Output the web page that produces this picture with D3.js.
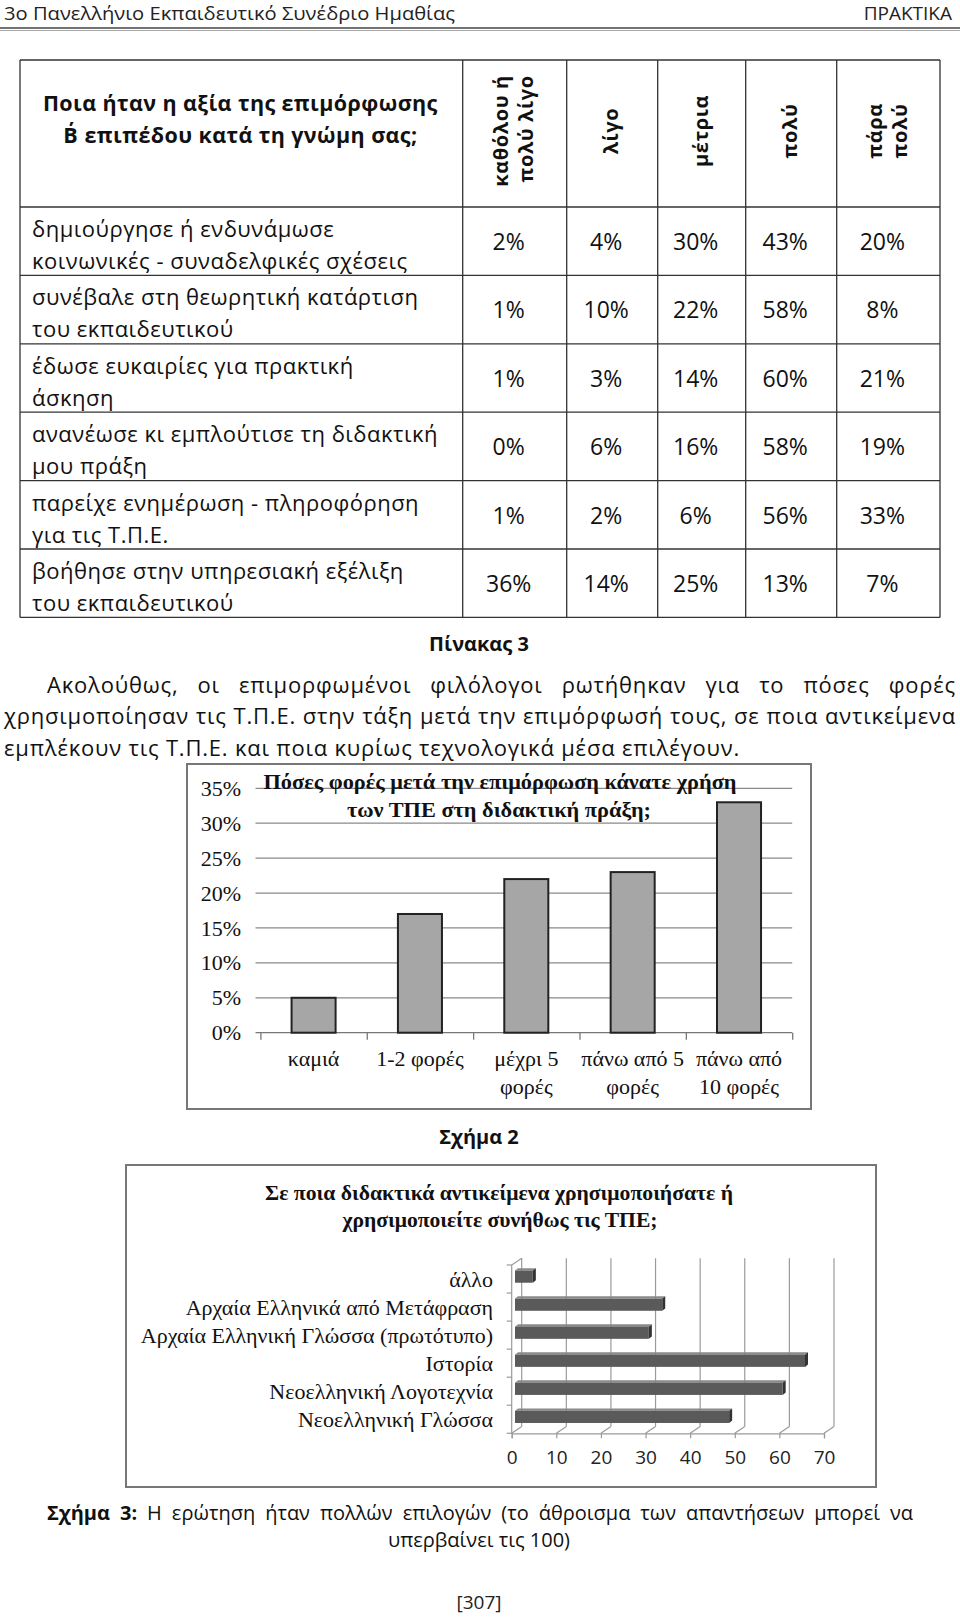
<!DOCTYPE html>
<html>
<head>
<meta charset="utf-8">
<style>
  body { margin: 0; background: #fff; }
  svg { display: block; }
  .body { font-family: "Open Sans", sans-serif; fill: #111; }
  .serif { font-family: "Liberation Serif", "Times New Roman", serif; fill: #111; }
  .calibri { font-family: "Open Sans", sans-serif; fill: #222; }
</style>
</head>
<body>
<svg width="960" height="1617"></svg>
<script src="https://d3js.org/d3.v7.min.js"></script>
<script>
// ---- data ----
var pageHeader = "3ο Πανελλήνιο Εκπαιδευτικό Συνέδριο Ημαθίας";
var pageHeaderRight = "ΠΡΑΚΤΙΚΑ";
var tableQuestion = ["Ποια ήταν η αξία της επιμόρφωσης", "Β΄ επιπέδου κατά τη γνώμη σας;"];
var tableCols = [["καθόλου ή", "πολύ λίγο"], ["λίγο"], ["μέτρια"], ["πολύ"], ["πάρα", "πολύ"]];
var tableRows = [
  ["δημιούργησε ή ενδυνάμωσε", "κοινωνικές - συναδελφικές σχέσεις"],
  ["συνέβαλε στη θεωρητική κατάρτιση", "του εκπαιδευτικού"],
  ["έδωσε ευκαιρίες για πρακτική", "άσκηση"],
  ["ανανέωσε κι εμπλούτισε τη διδακτική", "μου πράξη"],
  ["παρείχε ενημέρωση - πληροφόρηση", "για τις Τ.Π.Ε."],
  ["βοήθησε στην υπηρεσιακή εξέλιξη", "του εκπαιδευτικού"]
];
var tableValues = [
  [2, 4, 30, 43, 20],
  [1, 10, 22, 58, 8],
  [1, 3, 14, 60, 21],
  [0, 6, 16, 58, 19],
  [1, 2, 6, 56, 33],
  [36, 14, 25, 13, 7]
];
var tableCaption = "Πίνακας 3";
var paragraph = [
  "Ακολούθως, οι επιμορφωμένοι φιλόλογοι ρωτήθηκαν για το πόσες φορές",
  "χρησιμοποίησαν τις Τ.Π.Ε. στην τάξη μετά την επιμόρφωσή τους, σε ποια αντικείμενα",
  "εμπλέκουν τις Τ.Π.Ε. και ποια κυρίως τεχνολογικά μέσα επιλέγουν."
];

var freqTitle = ["Πόσες φορές μετά την επιμόρφωση κάνατε χρήση", "των ΤΠΕ στη διδακτική πράξη;"];
var freqCats = [["καμιά"], ["1-2 φορές"], ["μέχρι 5", "φορές"], ["πάνω από 5", "φορές"], ["πάνω από", "10 φορές"]];
var freqValues = [5, 17, 22, 23, 33];
var freqTicks = [0, 5, 10, 15, 20, 25, 30, 35];
var freqCaption = "Σχήμα 2";

var subjTitle = ["Σε ποια διδακτικά αντικείμενα χρησιμοποιήσατε ή", "χρησιμοποιείτε συνήθως τις ΤΠΕ;"];
var subjCats = ["άλλο", "Αρχαία Ελληνικά από Μετάφραση", "Αρχαία Ελληνική Γλώσσα (πρωτότυπο)",
                "Ιστορία", "Νεοελληνική Λογοτεχνία", "Νεοελληνική Γλώσσα"];
var subjValues = [4, 33, 30, 65, 60, 48];
var subjTicks = [0, 10, 20, 30, 40, 50, 60, 70];
var subjCaptionBold = "Σχήμα 3:";
var subjCaption = [" Η ερώτηση ήταν πολλών επιλογών (το άθροισμα των απαντήσεων μπορεί να", "υπερβαίνει τις 100)"];
var pageNumber = "[307]";

var svg = d3.select("svg");

// stretch the gaps of a line so it ends at xEnd
function justify(t, x0, xEnd) {
  var w = t.node().getComputedTextLength();
  var gaps = t.text().trim().split(" ").length - 1;
  t.attr("word-spacing", (xEnd - x0 - w) / gaps);
}

// ---- page header ----
svg.append("text").attr("class", "calibri").attr("x", 4).attr("y", 20)
    .attr("font-size", 19).attr("textLength", 451).attr("lengthAdjust", "spacingAndGlyphs")
    .text(pageHeader);
svg.append("text").attr("class", "calibri").attr("x", 952).attr("y", 20)
    .attr("font-size", 19).attr("text-anchor", "end")
    .text(pageHeaderRight);
svg.append("line").attr("x1", 0).attr("x2", 960).attr("y1", 28).attr("y2", 28)
    .attr("stroke", "#444").attr("stroke-width", 1.5);
svg.append("line").attr("x1", 0).attr("x2", 960).attr("y1", 30.5).attr("y2", 30.5)
    .attr("stroke", "#aaa").attr("stroke-width", 1);

// ---- table ----
var colEdges = [20, 462.7, 566.7, 657.7, 745.7, 836.7, 940];
var tTop = 60, tHead = 207, rowH = 68.4;
var rowY = d3.scaleLinear().domain([0, tableRows.length]).range([tHead, tHead + rowH * tableRows.length]);
var tbl = svg.append("g");

tbl.selectAll("line.h")
  .data([tTop].concat(d3.range(tableRows.length + 1).map(rowY)))
  .join("line").attr("class", "h")
    .attr("x1", colEdges[0]).attr("x2", colEdges[6])
    .attr("y1", d => d).attr("y2", d => d)
    .attr("stroke", "#333").attr("stroke-width", 1.3);
tbl.selectAll("line.v")
  .data(colEdges)
  .join("line").attr("class", "v")
    .attr("x1", d => d).attr("x2", d => d)
    .attr("y1", tTop).attr("y2", rowY(tableRows.length))
    .attr("stroke", "#333").attr("stroke-width", 1.3);

tbl.selectAll("text.q")
  .data(tableQuestion)
  .join("text").attr("class", "q body")
    .attr("x", (colEdges[0] + colEdges[1]) / 2 - 1)
    .attr("y", (d, i) => 111 + i * 32)
    .attr("text-anchor", "middle").attr("font-weight", "bold").attr("font-size", 21.5)
    .attr("letter-spacing", 0.4)
    .text(d => d);

// rotated column heads; a two-line head is centred as a block, lines aligned at the top
tableCols.forEach(function (lines, c) {
  var cx = (colEdges[c + 1] + colEdges[c + 2]) / 2;
  var top = null;
  lines.forEach(function (t, k) {
    var lx = cx + (k - (lines.length - 1) / 2) * 25 + 6;
    var el = tbl.append("text").attr("class", "body")
      .attr("font-weight", "bold").attr("font-size", 20).attr("letter-spacing", 0.6)
      .text(t);
    var len = el.node().getComputedTextLength();
    if (k === 0) top = 131 - len / 2;
    var yStart = (c === 0) ? top + len : 131 + len / 2;
    el.attr("transform", "translate(" + lx + "," + yStart + ") rotate(-90)");
  });
});

var rowG = tbl.selectAll("g.row").data(tableRows).join("g").attr("class", "row")
    .attr("transform", (d, i) => "translate(0," + rowY(i) + ")");
rowG.selectAll("text.lbl")
  .data(d => d)
  .join("text").attr("class", "lbl body")
    .attr("x", 32).attr("y", (d, k) => 30 + k * 32)
    .attr("font-size", 22).attr("letter-spacing", 0.5)
    .text(d => d);
rowG.selectAll("text.val")
  .data((d, i) => tableValues[i])
  .join("text").attr("class", "val body")
    .attr("x", (d, c) => (colEdges[c + 1] + colEdges[c + 2]) / 2 - 6)
    .attr("y", 43)
    .attr("text-anchor", "middle").attr("font-size", 23)
    .text(d => d + "%");

svg.append("text").attr("class", "body").attr("x", 479).attr("y", 651)
    .attr("text-anchor", "middle").attr("font-weight", "bold").attr("font-size", 20)
    .text(tableCaption);

// ---- paragraph (justified) ----
var paraX = [47, 4, 4], paraY = [693, 724, 756];
paragraph.forEach(function (line, i) {
  var t = svg.append("text").attr("class", "body").attr("x", paraX[i]).attr("y", paraY[i])
      .attr("font-size", 22).attr("letter-spacing", 0.8).text(line);
  if (i < paragraph.length - 1) justify(t, paraX[i], 956);
});

// ---- chart: Σχήμα 2 ----
var c1 = svg.append("g");
c1.append("rect").attr("x", 187).attr("y", 764).attr("width", 624).attr("height", 345)
    .attr("fill", "#fff").attr("stroke", "#777").attr("stroke-width", 2);

var x1 = d3.scaleBand().domain(d3.range(freqCats.length)).range([260.4, 792.2])
    .paddingInner(0.586).paddingOuter(0.293);
var y1 = d3.scaleLinear().domain([0, 35]).range([1032.7, 788.3]);

c1.selectAll("line.grid").data(freqTicks.slice(1)).join("line").attr("class", "grid")
    .attr("x1", 255.5).attr("x2", 792.2).attr("y1", d => y1(d)).attr("y2", d => y1(d))
    .attr("stroke", "#8a8a8a").attr("stroke-width", 1.2);
c1.append("g").attr("transform", "translate(0," + y1(0) + ")")
    .call(d3.axisBottom(d3.scaleLinear().domain([0, freqCats.length]).range(x1.range()))
      .ticks(freqCats.length).tickSize(7).tickFormat(""))
    .call(g => g.selectAll("line,path").attr("stroke", "#777").attr("stroke-width", 1.3))
    .call(g => g.select(".domain").attr("d", "M255.5,0H792.2"));

c1.append("g").attr("transform", "translate(241,0)")
    .call(d3.axisLeft(y1).tickValues(freqTicks).tickSize(0).tickPadding(0).tickFormat(d => d + "%"))
    .call(g => g.select(".domain").remove())
    .call(g => g.selectAll("text").attr("class", "serif").attr("font-size", 22).attr("fill", "#222"));

c1.selectAll("rect.bar").data(freqValues).join("rect").attr("class", "bar")
    .attr("x", (d, i) => x1(i)).attr("width", x1.bandwidth())
    .attr("y", d => y1(d)).attr("height", d => y1(0) - y1(d))
    .attr("fill", "#a6a6a6").attr("stroke", "#222").attr("stroke-width", 2);

c1.selectAll("text.title").data(freqTitle).join("text").attr("class", "title serif")
    .attr("x", (d, i) => i ? 499 : 500).attr("y", (d, i) => 789 + i * 28)
    .attr("text-anchor", "middle").attr("font-weight", "bold").attr("font-size", 21)
    .attr("textLength", (d, i) => i ? 304 : 473).attr("lengthAdjust", "spacingAndGlyphs")
    .text(d => d);

freqCats.forEach(function (lines, i) {
  c1.append("text").attr("class", "serif")
    .attr("text-anchor", "middle").attr("font-size", 22)
    .selectAll("tspan").data(lines).join("tspan")
      .attr("x", x1(i) + x1.bandwidth() / 2)
      .attr("y", (d, k) => 1066 + k * 28)
      .text(d => d);
});

svg.append("text").attr("class", "body").attr("x", 479).attr("y", 1144)
    .attr("text-anchor", "middle").attr("font-weight", "bold").attr("font-size", 20)
    .text(freqCaption);

// ---- chart: Σχήμα 3 (3-D horizontal bars) ----
var c2 = svg.append("g");
c2.append("rect").attr("x", 126).attr("y", 1165).attr("width", 750).attr("height", 322)
    .attr("fill", "#fff").attr("stroke", "#777").attr("stroke-width", 2);

c2.selectAll("text.title").data(subjTitle).join("text").attr("class", "title serif")
    .attr("x", (d, i) => i ? 500 : 499).attr("y", (d, i) => 1200 + i * 27)
    .attr("text-anchor", "middle").attr("font-weight", "bold").attr("font-size", 21)
    .attr("textLength", (d, i) => i ? 315 : 468).attr("lengthAdjust", "spacingAndGlyphs")
    .text(d => d);

var x2 = d3.scaleLinear().domain([0, 70]).range([511.7, 824]);
var y2 = d3.scaleBand().domain(subjCats).range([1265, 1433.3]);
var dx = 10, dy = -6.7, floorY = y2.range()[1];
var grid2 = "#9a9a9a";

// back wall gridlines + floor diagonals
c2.selectAll("line.vgrid").data(subjTicks).join("line").attr("class", "vgrid")
    .attr("x1", d => x2(d) + dx).attr("x2", d => x2(d) + dx)
    .attr("y1", 1265 + dy).attr("y2", floorY + dy)
    .attr("stroke", grid2).attr("stroke-width", 1.2);
c2.selectAll("line.diag").data(subjTicks).join("line").attr("class", "diag")
    .attr("x1", d => x2(d)).attr("x2", d => x2(d) + dx)
    .attr("y1", floorY).attr("y2", floorY + dy)
    .attr("stroke", grid2).attr("stroke-width", 1.2);
// left wall
c2.append("path")
    .attr("d", "M" + x2(0) + "," + floorY + "V1265L" + (x2(0) + dx) + "," + (1265 + dy))
    .attr("fill", "none").attr("stroke", grid2).attr("stroke-width", 1.2);
// left ticks
c2.selectAll("line.ytick").data(subjCats.map(d => y2(d)).concat([floorY])).join("line").attr("class", "ytick")
    .attr("x1", x2(0) - 5).attr("x2", x2(0)).attr("y1", d => d).attr("y2", d => d)
    .attr("stroke", grid2).attr("stroke-width", 1.2);

// bottom axis
c2.append("g").attr("transform", "translate(0," + floorY + ")")
    .call(d3.axisBottom(x2).tickValues(subjTicks).tickSize(5).tickPadding(12))
    .call(g => g.selectAll("line,path").attr("stroke", grid2).attr("stroke-width", 1.2))
    .call(g => g.selectAll("text").attr("class", "calibri").attr("font-size", 19).attr("fill", "#222"));

// bars
var bh = 12.2, bdx = 3, bdy = -2.4, off = 3.3;
var bars = c2.selectAll("g.bar").data(subjValues).join("g").attr("class", "bar");
bars.each(function (v, i) {
  var g = d3.select(this);
  var x0 = x2(0) + off, xe = x2(v) + off;
  var yc = y2(subjCats[i]) + y2.bandwidth() / 2 - 2.4;
  var t = yc - bh / 2, b = yc + bh / 2;
  g.append("path").attr("fill", "#8a8a8a")
    .attr("d", "M" + x0 + "," + t + "L" + xe + "," + t + "L" + (xe + bdx) + "," + (t + bdy) + "L" + (x0 + bdx) + "," + (t + bdy) + "Z");
  g.append("path").attr("fill", "#333")
    .attr("d", "M" + xe + "," + t + "L" + xe + "," + b + "L" + (xe + bdx) + "," + (b + bdy) + "L" + (xe + bdx) + "," + (t + bdy) + "Z");
  g.append("rect").attr("x", x0).attr("y", t).attr("width", xe - x0).attr("height", bh)
    .attr("fill", "#5a5a5a");
});

c2.selectAll("text.cat").data(subjCats).join("text").attr("class", "cat serif")
    .attr("x", 493).attr("y", d => y2(d) + y2.bandwidth() / 2 + 8)
    .attr("text-anchor", "end").attr("font-size", 22)
    .text(d => d);

// caption
var cap = svg.append("text").attr("class", "body").attr("x", 47).attr("y", 1520).attr("font-size", 20);
cap.append("tspan").attr("font-weight", "bold").text(subjCaptionBold);
cap.append("tspan").text(subjCaption[0]);
justify(cap, 47, 913);
svg.append("text").attr("class", "body").attr("x", 479).attr("y", 1547)
    .attr("text-anchor", "middle").attr("font-size", 20).text(subjCaption[1]);

svg.append("text").attr("class", "calibri").attr("x", 479).attr("y", 1609)
    .attr("text-anchor", "middle").attr("font-size", 19).text(pageNumber);
</script>
</body>
</html>
